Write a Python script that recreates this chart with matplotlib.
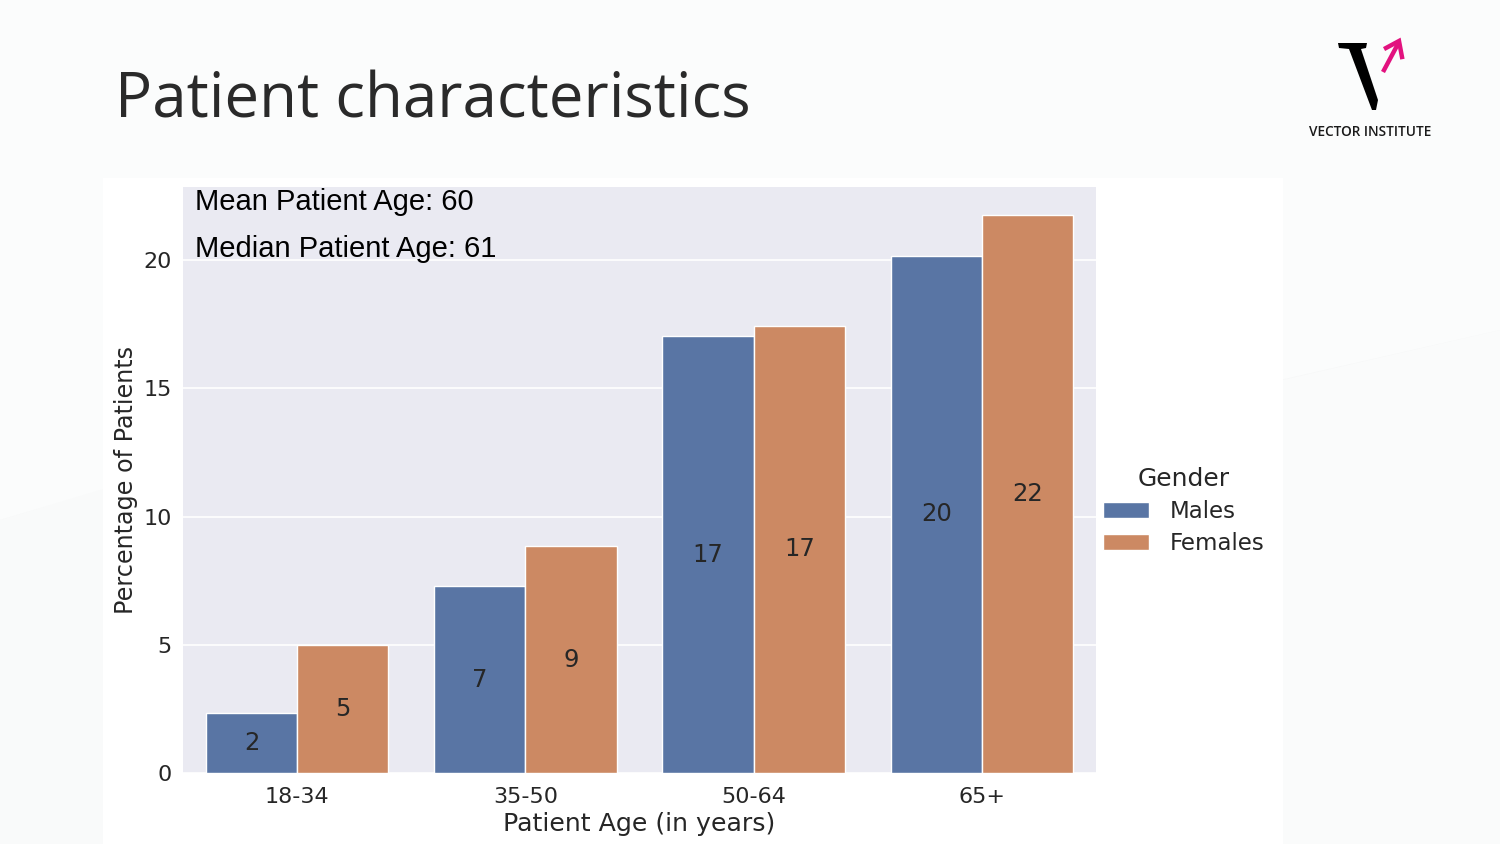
import matplotlib
matplotlib.use("Agg")
import matplotlib.pyplot as plt
from matplotlib.patches import Rectangle, Polygon
import numpy as np
import colorsys

# data
age_groups = ["18-34", "35-50", "50-64", "65+"]
males = [2.34, 7.29, 17.04, 20.16]
females = [4.99, 8.85, 17.43, 21.75]
mean_age = 60
median_age = 61

W, H = 1500, 844


def fx(x):
    return x / W


def fy(y):
    return 1 - y / H


def desat(hexcol, s=0.75):
    r, g, b = matplotlib.colors.to_rgb(hexcol)
    h, l, sat = colorsys.rgb_to_hls(r, g, b)
    return colorsys.hls_to_rgb(h, l, sat * s)


c_m = desat("#4C72B0")
c_f = desat("#DD8452")
dark = "#262626"

fig = plt.figure(figsize=(15, 8.44), dpi=100, facecolor="#f7f8f8")

# faint slide background shapes
bg = fig.add_axes([0, 0, 1, 1])
bg.set_xlim(0, W); bg.set_ylim(H, 0); bg.axis("off")
bg.add_patch(Polygon([(0, 0), (1500, 0), (1500, 330), (1280, 380), (900, 260), (0, 520)],
                     closed=True, fc="#fbfcfc", ec="none"))
bg.add_patch(Polygon([(0, 520), (300, 430), (600, 844), (0, 844)], closed=True, fc="#f9fafa", ec="none"))
bg.add_patch(Polygon([(1283, 380), (1500, 330), (1500, 844), (1283, 844)], closed=True,
                     fc="#fafbfb", ec="none"))
bg.add_patch(Rectangle((103, 178), 1180, 666, fc="white", ec="none"))

# title
fig.text(fx(115), fy(118), "Patient characteristics", family="Open Sans", fontsize=44.6,
         color="#2a2a2a", ha="left", va="baseline")

# logo
bg.add_patch(Polygon([(1338, 43), (1367, 43), (1366, 48), (1361, 49), (1378, 100), (1376, 110),
                      (1372, 110), (1349, 49), (1339, 48)], closed=True, fc="black", ec="none"))
pink = "#e2127f"
bg.plot([1383, 1399], [72, 42], color=pink, lw=3.2, solid_capstyle="butt")
bg.plot([1386, 1399, 1402], [48, 41, 57], color=pink, lw=3.2, solid_joinstyle="miter")
bg.text(1370, 132, "VECTOR INSTITUTE", family="Open Sans", fontweight="semibold", fontsize=9.8,
        color="#1a1a1a", ha="center", va="center")

# chart
ax = fig.add_axes([fx(183), fy(773), fx(1096) - fx(183), fy(187) - fy(773)])
ax.set_facecolor("#EAEAF2")
for s in ax.spines.values():
    s.set_visible(False)
ax.grid(True, axis="y", color="white", lw=1.2)
ax.set_axisbelow(True)

x = np.arange(len(age_groups))
w = 0.4
b1 = ax.bar(x - w / 2, males, w, color=c_m, edgecolor="white", lw=1, label="Males")
b2 = ax.bar(x + w / 2, females, w, color=c_f, edgecolor="white", lw=1, label="Females")
for bars in (b1, b2):
    ax.bar_label(bars, labels=[f"{v:.0f}" for v in bars.datavalues], label_type="center",
                 fontsize=17.5, color=dark)

ax.set_xlim(-0.5, 3.5)
ax.set_ylim(0, 22.85)
ax.set_yticks([0, 5, 10, 15, 20])
ax.set_xticks(x)
ax.set_xticklabels(age_groups)
ax.tick_params(axis="x", length=0, labelsize=16, labelcolor=dark, pad=10)
ax.tick_params(axis="y", length=0, labelsize=16, labelcolor=dark, pad=8)
ax.set_xlabel("Patient Age (in years)", fontsize=18.2, color=dark, labelpad=4)
ax.set_ylabel("Percentage of Patients", fontsize=17.2, color=dark, labelpad=4)

fig.text(fx(195), fy(202), f"Mean Patient Age: {mean_age}", family="Liberation Sans",
         fontsize=21, color="black", ha="left", va="center")
fig.text(fx(195), fy(249), f"Median Patient Age: {median_age}", family="Liberation Sans",
         fontsize=21, color="black", ha="left", va="center")

leg = ax.legend(title="Gender", loc="center left", bbox_to_anchor=(fx(1094), fy(511)),
                bbox_transform=fig.transFigure, frameon=False, fontsize=16.5, title_fontsize=18,
                handlelength=2.0, handleheight=0.7, labelspacing=0.4, handletextpad=0.9,
                borderaxespad=0)
for t in leg.get_texts():
    t.set_color(dark)
leg.get_title().set_color(dark)

fig.savefig("out.png", dpi=100, facecolor=fig.get_facecolor())
